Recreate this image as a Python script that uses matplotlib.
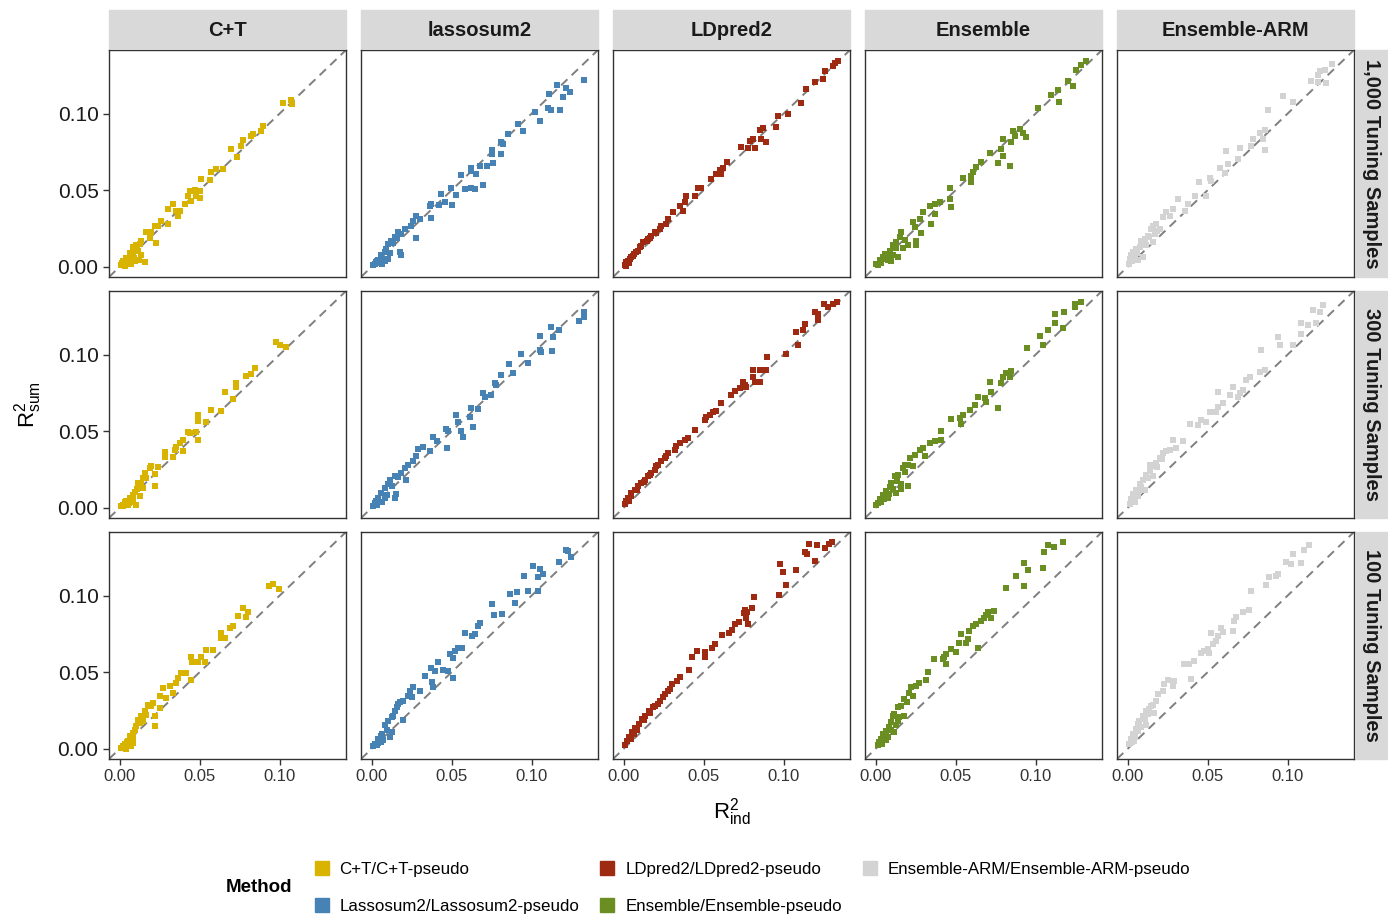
import numpy as np
import matplotlib
matplotlib.use('Agg')
import matplotlib.pyplot as plt
from matplotlib.lines import Line2D
from matplotlib.patches import Rectangle

plt.rcParams['font.family'] = ['Liberation Sans', 'DejaVu Sans']
plt.rcParams['mathtext.fontset'] = 'custom'
plt.rcParams['mathtext.rm'] = 'Liberation Sans'
plt.rcParams['mathtext.it'] = 'Liberation Sans'

metodos = ['C+T', 'lassosum2', 'LDpred2', 'Ensemble', 'Ensemble-ARM']
filas = ['1,000 Tuning Samples', '300 Tuning Samples', '100 Tuning Samples']
etiquetas = ['C+T/C+T-pseudo', 'Lassosum2/Lassosum2-pseudo', 'LDpred2/LDpred2-pseudo',
             'Ensemble/Ensemble-pseudo', 'Ensemble-ARM/Ensemble-ARM-pseudo']
colores = ['#D8B400', '#4682B4', '#9E2A12', '#6B8E23', '#D3D3D3']
ticks = [0.00, 0.05, 0.10]

# (R2_ind, R2_sum), un panel por lista
ct_1000 = [(.102,.107),(.107,.109),(.108,.106),(.0896,.0918),(.0885,.0885),(.0833,.0868),(.0823,.0853),
           (.0771,.0825),(.076,.0788),(.0694,.0771),(.0735,.0719),(.0646,.0641),(.0604,.0641),(.0573,.0619),
           (.0563,.0567),(.051,.0571),(.05,.0496),(.0469,.0502),(.0438,.0496),(.0427,.0463),(.0479,.0459),
           (.05,.0452),(.0448,.0431),(.0406,.0409),(.0375,.0366),(.0333,.0409),(.0302,.0377),(.0354,.0366),
           (.0365,.0333),(.0302,.0279),(.026,.0301),(.024,.0268),(.0219,.0268),(.0198,.0225),(.0167,.0225),
           (.0188,.0186),(.0229,.0154),(.0135,.0171),(.0125,.0149),(.0104,.0139),(.0083,.0128),(.0135,.0074),
           (.0156,.003),(.0083,.0084),(.0063,.0052),(.0042,.003),(.0021,.0019),(.001,.0009),(.003,.0002),
           (.0073,.0019),(.0052,.0041),(.002,.004),(.004,.006),(.006,.004),(.003,.001),(.008,.010),
           (.011,.012),(.005,.002),(.009,.006),(.0115,.0105),(.007,.0075),(.0095,.0035),(.0015,.0025),
           (.0045,.0015),(.012,.0045),(.0065,.009),(.0035,.0035)]
las_1000 = [(.1327,.1216),(.1158,.1188),(.1106,.113),(.1217,.1167),(.1238,.1139),(.1196,.1108),(.1102,.1037),
            (.1119,.1022),(.1175,.1022),(.1019,.1009),(.105,.095),(.0915,.0935),(.0946,.0885),(.0852,.0868),
            (.081,.0814),(.0821,.0799),(.081,.0738),(.0752,.076),(.0752,.0734),(.0758,.0675),(.0723,.0658),
            (.0675,.0658),(.0623,.0647),(.0654,.0604),(.0623,.0626),(.056,.0597),(.0696,.0532),(.0644,.0506),
            (.0623,.0511),(.0581,.0506),(.0529,.0468),(.0498,.0517),(.0502,.0403),(.0456,.042),(.0435,.0474),
            (.0419,.0403),(.0373,.0409),(.0363,.0398),(.0369,.0318),(.03,.0312),(.0279,.0333),(.0258,.0301),
            (.0248,.0268),(.0206,.0247),(.0185,.0214),(.0165,.0225),(.0144,.0193),(.0123,.0171),(.0102,.0149),
            (.0092,.0117),(.0279,.0186),(.0175,.0095),(.0185,.0078),(.0081,.0095),(.006,.0063),(.004,.0041),
            (.0019,.0019),(.0008,.0009),(.005,.0026),(.0102,.0052),(.003,.004),(.007,.005),(.0135,.0155),
            (.0115,.009),(.0085,.004),(.0025,.003),(.0055,.0075),(.0155,.0185),(.0065,.002)]
ldp_1000 = [(.134,.134),(.1319,.1329),(.1308,.1312),(.1256,.1281),(.1246,.1225),(.1194,.1203),(.1142,.1162),
            (.111,.1069),(.1027,.1),(.0965,.0983),(.0954,.0913),(.0871,.0907),(.085,.0892),(.0892,.0814),
            (.086,.0835),(.0808,.0831),(.0788,.082),(.0777,.0777),(.0819,.0775),(.0735,.0784),(.0648,.0684),
            (.0621,.0647),(.06,.063),(.061,.0604),(.0579,.0608),(.0548,.0576),(.0485,.0517),(.0465,.0517),
            (.0444,.0463),(.0392,.0463),(.0381,.042),(.035,.0398),(.0371,.0366),(.0308,.0355),(.0277,.0312),
            (.0267,.0279),(.0235,.0268),(.0194,.0225),(.0173,.0203),(.0152,.0182),(.0121,.016),(.01,.0128),
            (.0079,.0095),(.0048,.0063),(.0027,.0035),(.0006,.0013),(.0017,.003),(.0038,.0052),(.011,.0135),
            (.0205,.022),(.0055,.0068),(.0145,.0165),(.0165,.019),(.0225,.0245),(.009,.0105),(.0035,.0025),
            (.0065,.0085),(.0015,.0005)]
ens_1000 = [(.1317,.134),(.1285,.1318),(.1254,.1286),(.1202,.121),(.1233,.1177),(.114,.1156),(.1098,.1123),
            (.1146,.1074),(.1015,.1037),(.09,.0896),(.0858,.0885),(.0921,.0874),(.0942,.0848),(.0869,.0853),
            (.0848,.0814),(.0796,.0831),(.0785,.0766),(.0796,.0723),(.0713,.0745),(.0765,.068),(.0838,.0658),
            (.066,.0684),(.0629,.0654),(.0608,.0619),(.0598,.0593),(.0546,.0582),(.0598,.0554),(.0463,.0511),
            (.0463,.0442),(.0473,.0387),(.04,.0424),(.0369,.0409),(.0338,.0398),(.0369,.0344),(.0348,.0279),
            (.0296,.0355),(.0275,.0312),(.0233,.029),(.0244,.0258),(.0285,.0219),(.0254,.0171),(.0254,.0139),
            (.016,.0225),(.015,.0193),(.0202,.0143),(.0171,.0121),(.0129,.016),(.0108,.0139),(.0088,.0106),
            (.0067,.0084),(.0046,.0063),(.0025,.0041),(.0004,.0019),(.0035,.0026),(.0108,.0074),(.014,.0063),
            (.006,.005),(.009,.008),(.0125,.0125),(.0075,.0045),(.0015,.001),(.0055,.0085),(.0185,.0175),
            (.0095,.0035)]
arm_1000 = [(.1279,.1325),(.1231,.1286),(.12,.1281),(.119,.1253),(.1148,.121),(.119,.1203),(.1238,.1199),
            (.0971,.1113),(.1033,.1074),(.0877,.1022),(.0856,.0892),(.0825,.087),(.0846,.0835),(.0783,.0831),
            (.0773,.0788),(.0856,.0762),(.07,.0777),(.0617,.0755),(.069,.0701),(.0627,.0669),(.0575,.0647),
            (.0606,.061),(.0513,.0582),(.0523,.0561),(.0446,.055),(.0492,.0463),(.0419,.0463),(.0377,.0409),
            (.0315,.0442),(.0356,.0366),(.0283,.0377),(.0242,.0355),(.0263,.0333),(.0221,.0323),(.0179,.0279),
            (.0158,.0268),(.0148,.0247),(.02,.0247),(.0169,.0214),(.0127,.0203),(.0106,.0182),(.0085,.0171),
            (.0158,.016),(.0075,.0128),(.0054,.0117),(.0033,.0095),(.0023,.0074),(.0096,.0063),(.0013,.0052),
            (.0008,.0019),(.004,.006),(.006,.009),(.0115,.0145),(.0065,.0045),(.0135,.0195),(.0045,.0085),
            (.0025,.0035),(.0185,.0235)]

ct_300 = [(.0979,.108),(.1,.1063),(.1042,.1048),(.0844,.0911),(.0823,.0874),(.0792,.0859),(.0729,.0816),
          (.0729,.0788),(.0656,.0755),(.0708,.0712),(.0573,.0636),(.0635,.063),(.049,.0604),(.049,.0565),
          (.0542,.0561),(.0427,.0496),(.0438,.0485),(.0479,.0496),(.049,.0442),(.0396,.0442),(.0375,.042),
          (.0354,.0398),(.0344,.0377),(.0396,.037),(.0281,.0366),(.0281,.0329),(.0333,.0333),(.024,.0268),
          (.0198,.0275),(.0188,.0258),(.0156,.0225),(.0219,.0219),(.0146,.0193),(.0115,.016),(.0146,.0128),
          (.0219,.0139),(.0094,.0106),(.0083,.0084),(.0125,.0074),(.0063,.0063),(.0042,.0041),(.0021,.0019),
          (.001,.0009),(.0104,.0019),(.0052,.0019),(.003,.004),(.006,.003),(.008,.005),(.002,.001),
          (.0105,.0125),(.007,.0055),(.0045,.0025),(.0135,.0155),(.0035,.0015),(.0085,.0035),(.0165,.0195)]
las_300 = [(.1327,.1281),(.1327,.1245),(.1294,.1216),(.1123,.118),(.1169,.1158),(.1133,.1115),(.105,.1121),
           (.105,.1028),(.106,.1017),(.1127,.1024),(.0935,.1002),(.0977,.0948),(.0856,.0937),(.0883,.0877),
           (.081,.0866),(.0769,.0812),(.0779,.0801),(.0696,.0747),(.0706,.0725),(.0748,.0736),(.0623,.0654),
           (.0665,.0645),(.0613,.0595),(.0529,.0606),(.054,.0558),(.0467,.0515),(.0477,.0498),(.056,.0498),
           (.0571,.0461),(.0633,.0524),(.0383,.0465),(.041,.0433),(.0473,.039),(.029,.0385),(.0321,.0394),
           (.0363,.0372),(.0279,.0335),(.0258,.0303),(.0227,.0281),(.0206,.026),(.0165,.0199),(.0144,.0206),
           (.0113,.0184),(.0217,.0184),(.0102,.0152),(.0081,.013),(.006,.0097),(.004,.0065),(.0019,.0032),
           (.0008,.0011),(.0154,.0091),(.0144,.0065),(.0081,.0065),(.003,.002),(.005,.004),(.0125,.0145),
           (.0185,.0225),(.0065,.0035),(.0095,.0085),(.0025,.0045)]
ldp_300 = [(.1335,.1342),(.1308,.1331),(.1277,.131),(.1252,.1331),(.1194,.1277),(.1215,.1266),(.1215,.1223),
           (.1131,.1201),(.1079,.1147),(.1121,.1158),(.109,.1065),(.1017,.1002),(.0898,.0985),(.0892,.0898),
           (.085,.0898),(.0808,.0898),(.0808,.0855),(.0819,.0823),(.085,.0818),(.0746,.0823),(.0756,.0801),
           (.0725,.0779),(.0694,.0762),(.0673,.0736),(.0767,.079),(.061,.0682),(.0579,.0632),(.0558,.0628),
           (.0538,.0606),(.0517,.0595),(.0506,.0574),(.0444,.0509),(.0402,.0455),(.0381,.0444),(.035,.0422),
           (.0329,.04),(.0319,.0379),(.0277,.0357),(.0256,.0325),(.0235,.0303),(.0215,.0281),(.0194,.0249),
           (.0173,.0227),(.0152,.0206),(.0131,.0184),(.011,.0162),(.009,.0141),(.0069,.0119),(.0048,.0097),
           (.0027,.0065),(.0017,.0043),(.0006,.0022),(.0205,.027),(.0165,.0215),(.0125,.0165),(.0085,.0115),
           (.0045,.0075),(.0035,.0045),(.0265,.0335)]
ens_300 = [(.1285,.1342),(.1244,.1331),(.1244,.131),(.1175,.1277),(.1119,.1266),(.1077,.1158),(.1119,.1208),
           (.1171,.1173),(.1025,.1121),(.1046,.1061),(.0948,.1045),(.0848,.0892),(.0817,.0877),(.0796,.0855),
           (.0838,.0855),(.0785,.0812),(.0713,.0823),(.0723,.0758),(.0692,.0693),(.0681,.0714),(.064,.0725),
           (.0765,.0654),(.0588,.0639),(.0619,.0671),(.0546,.0606),(.0525,.0589),(.0473,.0578),(.0535,.0545),
           (.041,.0498),(.041,.0444),(.0369,.0433),(.0338,.0422),(.0296,.039),(.0275,.0379),(.0306,.0335),
           (.0244,.0342),(.0213,.0325),(.0202,.0281),(.0181,.0281),(.0171,.026),(.0233,.0271),(.014,.0216),
           (.0119,.0206),(.0202,.0141),(.016,.0152),(.0098,.0162),(.0088,.0134),(.0067,.0108),(.0046,.0082),
           (.0025,.0054),(.0015,.0032),(.0004,.0017),(.0129,.0097),(.005,.006),(.008,.009),(.0105,.0125),
           (.0135,.0175),(.0075,.0065),(.0035,.0035),(.0155,.0125),(.0185,.0235)]
arm_300 = [(.1221,.1325),(.1158,.1288),(.12,.1281),(.1085,.1208),(.1127,.1195),(.1179,.1208),(.1085,.1136),
           (.1033,.1065),(.094,.1115),(.095,.1065),(.0835,.1028),(.0856,.0898),(.0825,.0887),(.0763,.0855),
           (.0742,.0833),(.0721,.0768),(.07,.0747),(.069,.0725),(.0658,.079),(.0638,.0736),(.0565,.0758),
           (.0596,.0682),(.0565,.066),(.0554,.0628),(.0513,.0628),(.0492,.0563),(.046,.0574),(.044,.0541),
           (.0388,.0545),(.0346,.0433),(.0283,.0444),(.0304,.039),(.0263,.0379),(.0242,.0368),(.0221,.0357),
           (.02,.0325),(.0179,.0292),(.0158,.0271),(.0138,.0238),(.0117,.0216),(.0158,.0206),(.0096,.0184),
           (.0075,.0152),(.0054,.0119),(.0033,.0087),(.0023,.0054),(.0013,.0022),(.0106,.0119),(.0138,.0281),
           (.004,.006),(.007,.011),(.0085,.0135),(.0125,.0195),(.0065,.0075),(.0045,.0035),(.0185,.0265),
           (.0215,.0315)]

ct_100 = [(.0933,.1061),(.0958,.1078),(.0996,.1045),(.0771,.0916),(.074,.0866),(.0802,.0894),(.0792,.0861),
          (.0708,.0801),(.0688,.0786),(.0635,.0753),(.0635,.0721),(.0656,.0721),(.0583,.0645),(.0542,.0645),
          (.051,.0602),(.0531,.0569),(.0448,.0602),(.0454,.0569),(.049,.0569),(.0448,.045),(.0417,.0494),
          (.0385,.0494),(.0365,.0461),(.0354,.0429),(.0313,.0407),(.0271,.0396),(.0333,.0364),(.025,.0342),
          (.0292,.0331),(.0208,.0299),(.0177,.0288),(.0198,.0277),(.025,.0266),(.0219,.0212),(.0167,.0223),
          (.0135,.0212),(.0146,.018),(.0125,.0169),(.0219,.0147),(.0104,.0147),(.0083,.0104),(.0063,.0082),
          (.0052,.005),(.0031,.0028),(.001,.0006),(.0073,.0017),(.0042,.0),(.003,.003),(.006,.002),(.008,.004),
          (.002,.002),(.0095,.0125),(.0065,.0035),(.0115,.0185),(.0045,.0045),(.0085,.0065),(.0155,.0245)]
las_100 = [(.1213,.1299),(.1229,.1288),(.1246,.1251),(.1171,.1219),(.101,.119),(.1052,.1175),(.1073,.1141),
           (.1038,.1119),(.0954,.1126),(.0906,.1022),(.0865,.1011),(.0896,.0952),(.0979,.1032),(.1038,.1032),
           (.0754,.0948),(.0767,.0872),(.0817,.0877),(.0677,.0823),(.0667,.0801),(.0625,.0736),(.0646,.0747),
           (.0583,.0758),(.0563,.066),(.0542,.0656),(.0521,.0639),(.049,.0617),(.051,.0595),(.0417,.0569),
           (.0371,.0526),(.0396,.0509),(.0448,.0513),(.0479,.0509),(.051,.0465),(.0333,.0476),(.0375,.0433),
           (.0385,.04),(.0302,.0379),(.026,.04),(.024,.0379),(.0229,.0346),(.025,.0335),(.0198,.0314),
           (.0167,.0292),(.0156,.0275),(.0198,.0188),(.0135,.0216),(.0125,.0206),(.0104,.0184),(.0083,.0152),
           (.0125,.0108),(.0115,.0076),(.0063,.0097),(.0042,.0065),(.0021,.0032),(.001,.0015),(.0073,.0054),
           (.004,.004),(.006,.008),(.0145,.0245),(.0095,.0125),(.0175,.0305),(.0035,.0025),(.0055,.0045)]
ldp_100 = [(.1302,.1348),(.1281,.1335),(.126,.131),(.1208,.1327),(.116,.1335),(.1135,.1284),(.1146,.1271),
           (.1194,.1227),(.1077,.1169),(.0994,.1154),(.0979,.1206),(.1015,.1071),(.0973,.1006),(.0813,.0989),
           (.0802,.092),(.076,.0903),(.075,.0887),(.0771,.0894),(.0765,.0855),(.0777,.0816),(.0719,.0829),
           (.0698,.0816),(.0677,.0773),(.0656,.0758),(.0615,.0742),(.0573,.0686),(.0552,.0656),(.051,.0632),
           (.051,.06),(.0458,.0639),(.0427,.06),(.0406,.0513),(.0354,.047),(.0333,.0444),(.0302,.0422),
           (.0292,.039),(.026,.0357),(.0229,.0314),(.0198,.0281),(.0156,.0249),(.0135,.0216),(.0115,.0195),
           (.0094,.0162),(.0073,.0136),(.0052,.0108),(.0031,.0076),(.0021,.005),(.001,.0022),(.0245,.0335),
           (.018,.027),(.0085,.012),(.0125,.0185),(.0165,.0235),(.0215,.0295),(.0065,.0095),(.0045,.0065),
           (.0275,.0375)]
ens_100 = [(.1169,.1348),(.1117,.1314),(.1075,.1331),(.105,.1284),(.1044,.118),(.0929,.1212),(.095,.1169),
           (.0877,.1126),(.0929,.1061),(.0815,.105),(.0742,.0898),(.07,.0894),(.069,.0872),(.0679,.0855),
           (.0721,.0855),(.0658,.0833),(.0627,.0816),(.0606,.0801),(.0585,.0768),(.0533,.0747),(.0575,.0714),
           (.0565,.0693),(.0523,.0693),(.0638,.066),(.0471,.0649),(.0502,.0634),(.044,.0617),(.0429,.06),
           (.0419,.0584),(.0367,.0584),(.044,.0552),(.0325,.0498),(.0315,.0448),(.0273,.0426),(.0252,.0411),
           (.0221,.04),(.021,.0361),(.0231,.0346),(.0179,.0325),(.0158,.0281),(.0138,.0275),(.0117,.0227),
           (.0106,.0216),(.0179,.0216),(.0138,.0184),(.0096,.0173),(.0085,.0141),(.0065,.0119),(.0054,.0097),
           (.0117,.0108),(.0033,.0065),(.0023,.0043),(.0013,.0022),(.0075,.0076),(.004,.003),(.0125,.0155),
           (.0095,.0125),(.0145,.0205),(.0065,.0055),(.0045,.0095),(.0195,.0305)]
arm_100 = [(.1135,.1327),(.1104,.1299),(.1031,.1271),(.099,.1219),(.1021,.1206),(.1083,.1212),(.0938,.1141),
           (.0927,.1126),(.0881,.1119),(.0865,.1067),(.0771,.1032),(.076,.0903),(.0719,.0894),(.0677,.0859),
           (.0667,.0833),(.0656,.0768),(.0583,.0786),(.0594,.0764),(.0563,.0736),(.0521,.0758),(.0552,.0703),
           (.0531,.0682),(.05,.0649),(.051,.0628),(.0479,.0639),(.0458,.0628),(.0417,.0574),(.0385,.0556),
           (.0354,.0552),(.0396,.0455),(.0292,.0444),(.0281,.0411),(.025,.0448),(.0229,.0422),(.0219,.0379),
           (.0188,.0357),(.0177,.0314),(.0146,.0281),(.0135,.026),(.0115,.0249),(.0094,.0216),(.0073,.0184),
           (.0063,.0162),(.0052,.013),(.0031,.0097),(.0021,.0065),(.001,.0032),(.0115,.0152),(.004,.005),
           (.0085,.0145),(.0105,.0195),(.0125,.0225),(.0155,.0285),(.0065,.0115),(.0045,.0075),(.0025,.0045),
           (.0165,.0235)]

paneles = [[ct_1000, las_1000, ldp_1000, ens_1000, arm_1000],
           [ct_300, las_300, ldp_300, ens_300, arm_300],
           [ct_100, las_100, ldp_100, ens_100, arm_100]]

W, H = 1388, 917
fig = plt.figure(figsize=(W / 100, H / 100), dpi=100)

lim = (-0.0067, 0.1415)
izq = [109, 361, 613, 865, 1117]
arriba = [50, 291, 532]
ancho, alto = 237, 227

for i, fila in enumerate(filas):
    for j, met in enumerate(metodos):
        ax = fig.add_axes([izq[j] / W, 1 - (arriba[i] + alto) / H, ancho / W, alto / H])
        pts = np.array(paneles[i][j])
        ax.plot(lim, lim, color='#7F7F7F', lw=1.4, ls=(0, (4.5, 3)), zorder=1)
        ax.scatter(pts[:, 0], pts[:, 1], marker='s', s=16, color=colores[j], linewidths=0, zorder=2)
        ax.set_xlim(lim)
        ax.set_ylim(lim)
        for sp in ax.spines.values():
            sp.set_color('#333333')
            sp.set_linewidth(1.0)
        ax.set_xticks(ticks)
        ax.set_yticks(ticks)
        ax.tick_params(length=4, width=1, color='#333333')
        if j == 0:
            ax.set_yticklabels(['0.00', '0.05', '0.10'], fontsize=15, color='#1A1A1A')
        else:
            ax.tick_params(axis='y', left=False, labelleft=False)
        if i == 2:
            ax.set_xticklabels(['0.00', '0.05', '0.10'], fontsize=12, color='#333333')
        else:
            ax.tick_params(axis='x', bottom=False, labelbottom=False)
        # tiras de facetas
        if i == 0:
            fig.patches.append(Rectangle((izq[j] / W, 1 - 48 / H), ancho / W, 38 / H,
                                         transform=fig.transFigure, color='#D9D9D9', zorder=0))
            fig.text((izq[j] + ancho / 2) / W, 1 - 30 / H, met, ha='center', va='center',
                     fontsize=14.5, fontweight='bold', color='#1A1A1A')
        if j == 4:
            fig.patches.append(Rectangle((1356 / W, 1 - (arriba[i] + alto) / H), 32 / W, alto / H,
                                         transform=fig.transFigure, color='#D9D9D9', zorder=0))
            fig.text(1372 / W, 1 - (arriba[i] + alto / 2) / H, fila, ha='center', va='center',
                     rotation=-90, fontsize=14.5, fontweight='bold', color='#1A1A1A')

fig.text(28 / W, 1 - 405 / H, r'$\mathrm{R^2_{sum}}$', rotation=90, ha='center', va='center', fontsize=16)
fig.text(732 / W, 1 - 812 / H, r'$\mathrm{R^2_{ind}}$', ha='center', va='center', fontsize=16)

# leyenda
fig.text(259 / W, 1 - 888 / H, 'Method', ha='center', va='center', fontsize=13.5, fontweight='bold')
manejadores = [Line2D([], [], marker='s', ls='none', color=c, markersize=10) for c in colores]
fig.legend(manejadores, etiquetas, ncol=3, loc='center left', bbox_to_anchor=(298 / W, 1 - 888 / H),
           frameon=False, fontsize=12.2, handletextpad=0.55, columnspacing=1.15, labelspacing=1.25,
           handlelength=1.0)

fig.savefig('out.png', dpi=100)
